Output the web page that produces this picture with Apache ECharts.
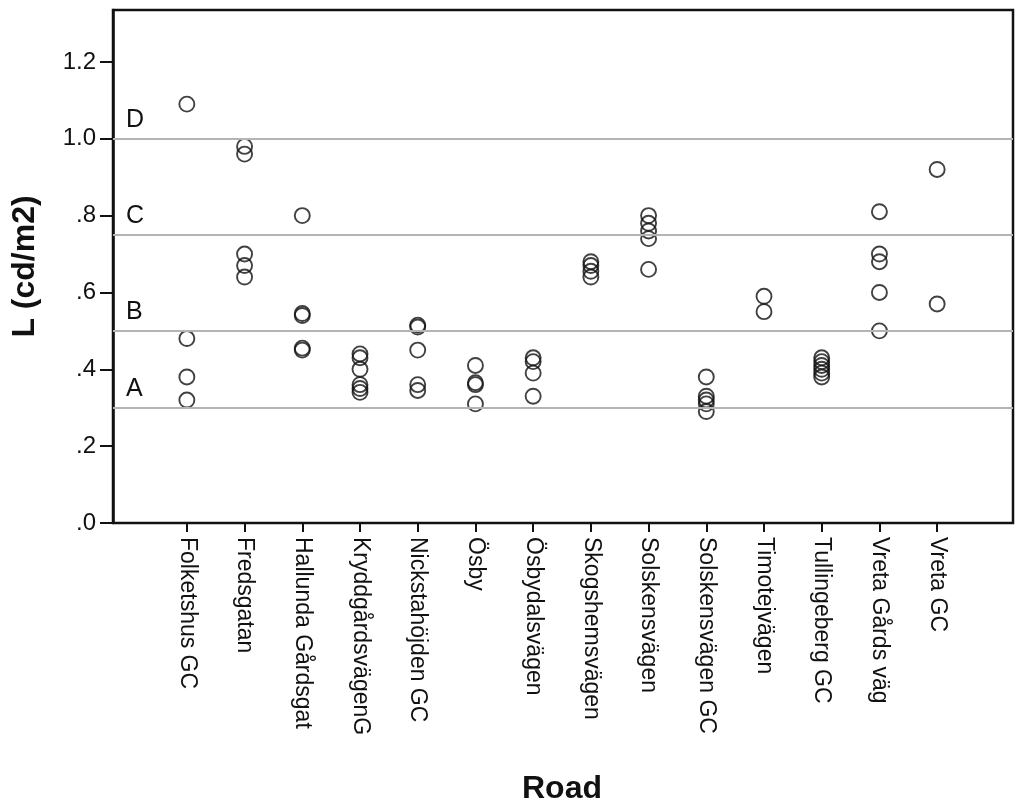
<!DOCTYPE html>
<html>
<head>
<meta charset="utf-8">
<script src="https://cdn.jsdelivr.net/npm/echarts@6/dist/echarts.min.js"></script>
<style>
html,body{margin:0;padding:0;background:#fff;}
#chart{width:1024px;height:810px;}
</style>
</head>
<body>
<div id="chart"></div>
<script>
const categories = ['Folketshus GC','Fredsgatan','Hallunda Gårdsgat','KryddgårdsvägenG','Nickstahöjden GC','Ösby','Ösbydalsvägen','Skogshemsvägen','Solskensvägen','Solskensvägen GC','Timotejvägen','Tullingeberg GC','Vreta Gårds väg','Vreta GC'];

const folketshusGC = [1.09, 0.48, 0.38, 0.32];
const fredsgatan = [0.98, 0.96, 0.70, 0.67, 0.64];
const hallunda = [0.80, 0.545, 0.54, 0.455, 0.45];
const kryddgards = [0.44, 0.43, 0.40, 0.36, 0.35, 0.34];
const nickstahojden = [0.515, 0.51, 0.45, 0.36, 0.345];
const osby = [0.41, 0.365, 0.36, 0.31];
const osbydals = [0.43, 0.42, 0.39, 0.33];
const skogshems = [0.68, 0.67, 0.655, 0.64];
const solskens = [0.80, 0.78, 0.76, 0.74, 0.66];
const solskensGC = [0.38, 0.33, 0.32, 0.31, 0.29];
const timotej = [0.59, 0.55];
const tullingeberg = [0.43, 0.42, 0.41, 0.40, 0.39, 0.38];
const vretaGards = [0.81, 0.70, 0.68, 0.60, 0.50];
const vretaGC = [0.92, 0.57];

const seriesValues = [folketshusGC, fredsgatan, hallunda, kryddgards, nickstahojden, osby, osbydals, skogshems, solskens, solskensGC, timotej, tullingeberg, vretaGards, vretaGC];

const refValues = [0.3, 0.5, 0.75, 1.0];
const refLabels = ['A', 'B', 'C', 'D'];

const yTicks = [0, 0.2, 0.4, 0.6, 0.8, 1.0, 1.2];
const yTickLabels = ['.0', '.2', '.4', '.6', '.8', '1.0', '1.2'];
const yMin = 0, yMax = 1.335;

const points = [];
seriesValues.forEach((vals, i) => vals.forEach(v => points.push([categories[i], v])));

const FONT = "'Liberation Sans', Arial, sans-serif";

const chart = echarts.init(document.getElementById('chart'), null, {renderer: 'canvas'});
chart.setOption({
  animation: false,
  backgroundColor: '#fff',
  grid: [
    {left: 113, right: 11, top: 10, bottom: 287, show: true, borderColor: '#111', borderWidth: 2.5, backgroundColor: 'transparent'},
    {left: 158, right: 58, top: 10, bottom: 287}
  ],
  xAxis: [
    {type: 'value', gridIndex: 0, min: 0, max: 1, show: false},
    {
      type: 'category', gridIndex: 1, data: categories, boundaryGap: true,
      axisLine: {show: false},
      axisTick: {show: true, alignWithLabel: true, length: 9, lineStyle: {color: '#111', width: 2}},
      axisLabel: {rotate: -90, margin: 14, fontSize: 23, color: '#111', fontFamily: FONT, interval: 0},
      name: 'Road', nameLocation: 'middle', nameGap: 250,
      nameTextStyle: {fontSize: 32, fontWeight: 'bold', color: '#111', fontFamily: FONT}
    }
  ],
  yAxis: [
    {
      type: 'value', gridIndex: 0, min: yMin, max: yMax,
      axisLine: {show: true, lineStyle: {color: '#111', width: 2.5}},
      axisTick: {show: true, length: 13, customValues: yTicks, lineStyle: {color: '#111', width: 2}},
      splitLine: {show: false},
      axisLabel: {
        fontSize: 24, color: '#111', fontFamily: FONT, margin: 17,
        customValues: yTicks,
        formatter: function (v) {
          const i = yTicks.findIndex(t => Math.abs(t - v) < 1e-6);
          return i >= 0 ? yTickLabels[i] : '';
        }
      },
      name: 'L (cd/m2)', nameLocation: 'middle', nameGap: 72,
      nameTextStyle: {fontSize: 32, fontWeight: 'bold', color: '#111', fontFamily: FONT}
    },
    {type: 'value', gridIndex: 1, min: yMin, max: yMax, show: false}
  ],
  series: [
    {
      type: 'scatter', xAxisIndex: 0, yAxisIndex: 0, data: [], silent: true,
      markLine: {
        symbol: 'none', silent: true, animation: false,
        lineStyle: {color: '#b4b4b4', width: 2, type: 'solid'},
        label: {show: true, position: 'insideStartTop', distance: [13, 6], formatter: '{b}', fontSize: 25, color: '#111', fontFamily: FONT},
        data: refValues.map((v, i) => ({yAxis: v, name: refLabels[i]}))
      }
    },
    {
      type: 'scatter', xAxisIndex: 1, yAxisIndex: 1, data: points,
      symbol: 'circle', symbolSize: 15,
      itemStyle: {color: 'rgba(0,0,0,0)', borderColor: '#111', borderWidth: 1.9}
    }
  ]
});
</script>
</body>
</html>
